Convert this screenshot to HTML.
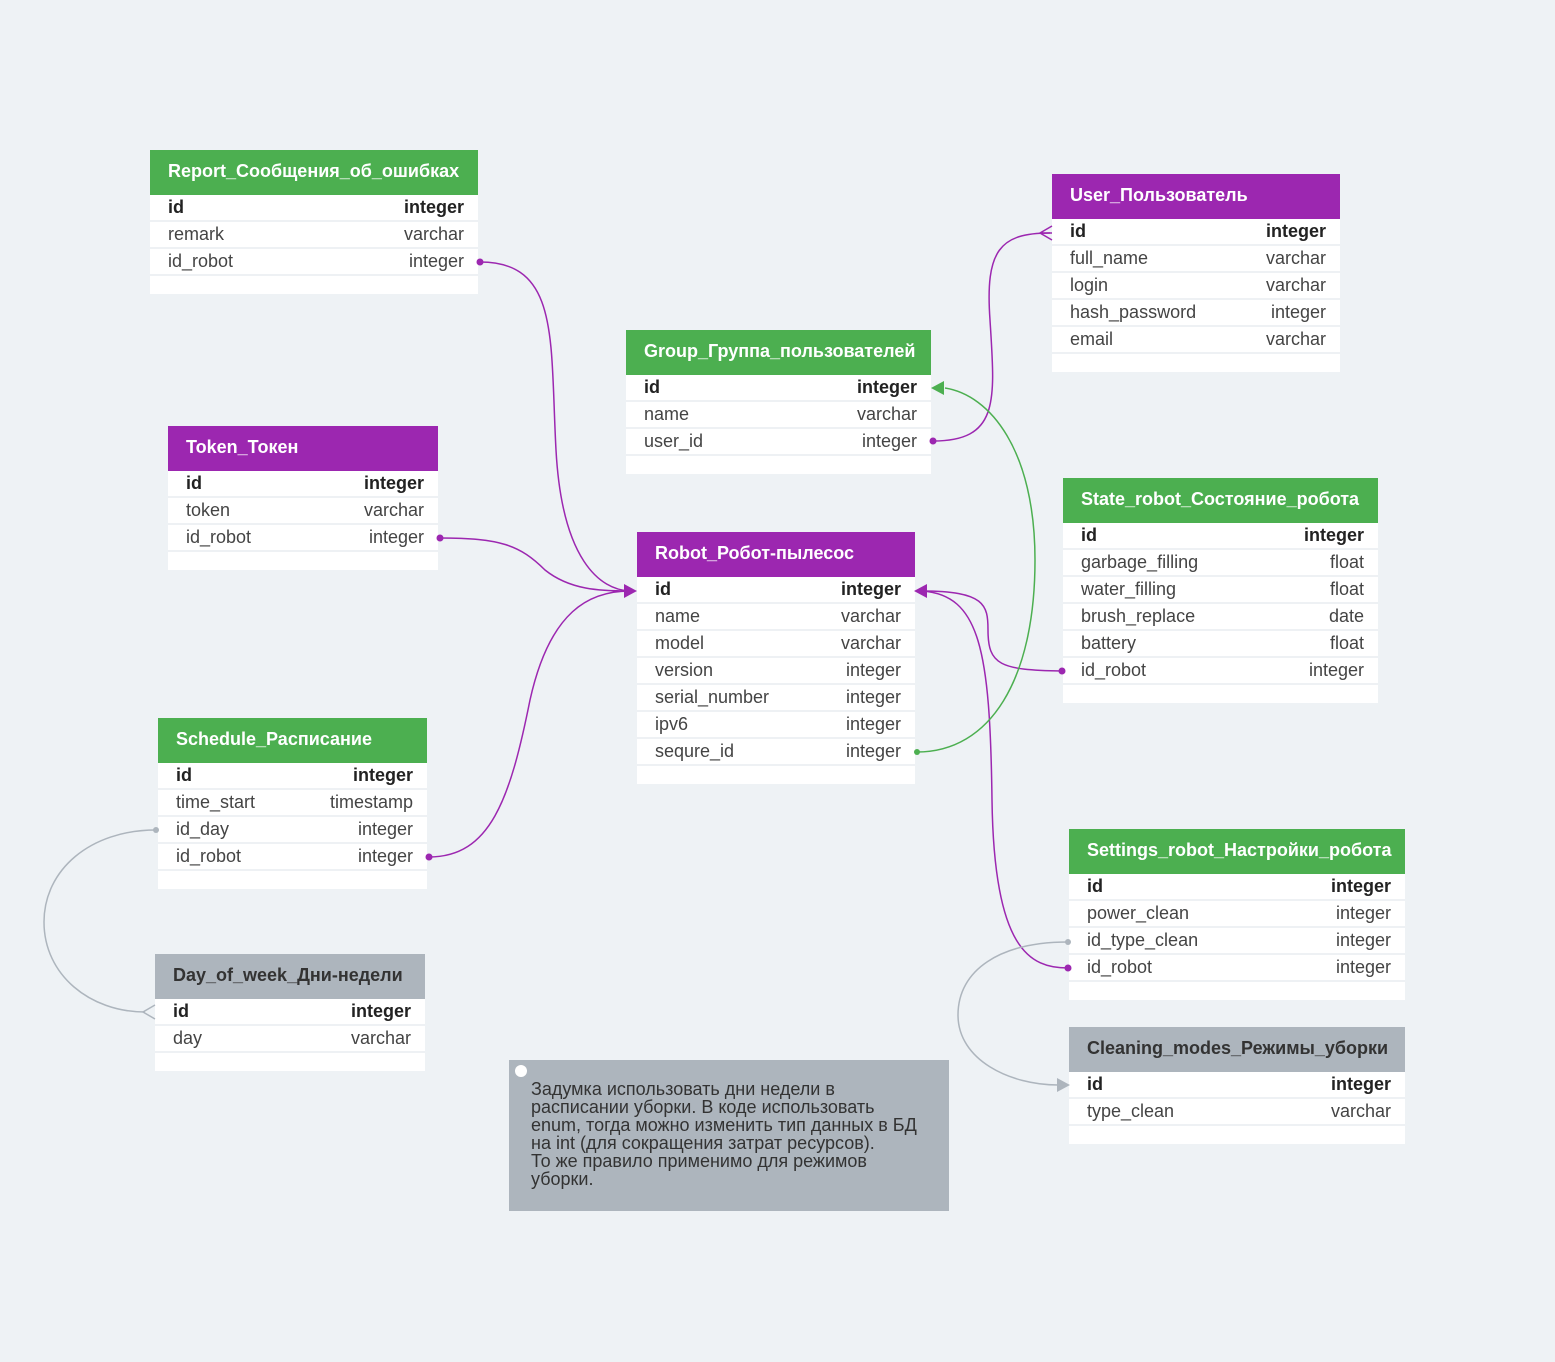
<!DOCTYPE html>
<html><head><meta charset="utf-8">
<style>
body{margin:0;width:1555px;height:1362px;background:#eef2f5;position:relative;overflow:hidden;font-family:"Liberation Sans","Noto Sans CJK SC",sans-serif;}
.t{position:absolute;background:#fff;}
.h{height:45px;line-height:43px;padding-left:18px;color:#fff;font-weight:bold;font-size:18px;white-space:nowrap;}
.g{background:#4caf50}.p{background:#9c27b0}.gr{background:#adb5bd;color:#333}
.r{height:25px;line-height:25px;border-bottom:2px solid #eef1f4;padding:0 14px 0 18px;font-size:18px;color:#444;display:flex;justify-content:space-between;}
.r.b{font-weight:bold;color:#222}
.f{height:18px}
.note{position:absolute;left:509px;top:1060px;width:440px;height:151px;background:#adb5bd;}
.note .d{position:absolute;left:6px;top:5px;width:12px;height:12px;border-radius:50%;background:#fff}
.note .tx{position:absolute;left:22px;top:20px;font-size:18px;line-height:18px;color:#333;white-space:pre}
svg{position:absolute;left:0;top:0}
</style></head><body>

<div class="t" style="left:150px;top:150px;width:328px">
<div class="h g">Report_Сообщения_об_ошибках</div>
<div class="r b"><span>id</span><span>integer</span></div>
<div class="r"><span>remark</span><span>varchar</span></div>
<div class="r"><span>id_robot</span><span>integer</span></div>
<div class="f"></div></div>

<div class="t" style="left:168px;top:426px;width:270px">
<div class="h p">Token_Токен</div>
<div class="r b"><span>id</span><span>integer</span></div>
<div class="r"><span>token</span><span>varchar</span></div>
<div class="r"><span>id_robot</span><span>integer</span></div>
<div class="f"></div></div>

<div class="t" style="left:626px;top:330px;width:305px">
<div class="h g">Group_Группа_пользователей</div>
<div class="r b"><span>id</span><span>integer</span></div>
<div class="r"><span>name</span><span>varchar</span></div>
<div class="r"><span>user_id</span><span>integer</span></div>
<div class="f"></div></div>

<div class="t" style="left:1052px;top:174px;width:288px">
<div class="h p">User_Пользователь</div>
<div class="r b"><span>id</span><span>integer</span></div>
<div class="r"><span>full_name</span><span>varchar</span></div>
<div class="r"><span>login</span><span>varchar</span></div>
<div class="r"><span>hash_password</span><span>integer</span></div>
<div class="r"><span>email</span><span>varchar</span></div>
<div class="f"></div></div>

<div class="t" style="left:637px;top:532px;width:278px">
<div class="h p">Robot_Робот-пылесос</div>
<div class="r b"><span>id</span><span>integer</span></div>
<div class="r"><span>name</span><span>varchar</span></div>
<div class="r"><span>model</span><span>varchar</span></div>
<div class="r"><span>version</span><span>integer</span></div>
<div class="r"><span>serial_number</span><span>integer</span></div>
<div class="r"><span>ipv6</span><span>integer</span></div>
<div class="r"><span>sequre_id</span><span>integer</span></div>
<div class="f"></div></div>

<div class="t" style="left:1063px;top:478px;width:315px">
<div class="h g">State_robot_Состояние_робота</div>
<div class="r b"><span>id</span><span>integer</span></div>
<div class="r"><span>garbage_filling</span><span>float</span></div>
<div class="r"><span>water_filling</span><span>float</span></div>
<div class="r"><span>brush_replace</span><span>date</span></div>
<div class="r"><span>battery</span><span>float</span></div>
<div class="r"><span>id_robot</span><span>integer</span></div>
<div class="f"></div></div>

<div class="t" style="left:158px;top:718px;width:269px">
<div class="h g">Schedule_Расписание</div>
<div class="r b"><span>id</span><span>integer</span></div>
<div class="r"><span>time_start</span><span>timestamp</span></div>
<div class="r"><span>id_day</span><span>integer</span></div>
<div class="r"><span>id_robot</span><span>integer</span></div>
<div class="f"></div></div>

<div class="t" style="left:155px;top:954px;width:270px">
<div class="h gr">Day_of_week_Дни-недели</div>
<div class="r b"><span>id</span><span>integer</span></div>
<div class="r"><span>day</span><span>varchar</span></div>
<div class="f"></div></div>

<div class="t" style="left:1069px;top:829px;width:336px">
<div class="h g">Settings_robot_Настройки_робота</div>
<div class="r b"><span>id</span><span>integer</span></div>
<div class="r"><span>power_clean</span><span>integer</span></div>
<div class="r"><span>id_type_clean</span><span>integer</span></div>
<div class="r"><span>id_robot</span><span>integer</span></div>
<div class="f"></div></div>

<div class="t" style="left:1069px;top:1027px;width:336px">
<div class="h gr">Cleaning_modes_Режимы_уборки</div>
<div class="r b"><span>id</span><span>integer</span></div>
<div class="r"><span>type_clean</span><span>varchar</span></div>
<div class="f"></div></div>

<div class="note"><div class="d"></div><div class="tx">Задумка использовать дни недели в
расписании уборки. В коде использовать
enum, тогда можно изменить тип данных в БД
на int (для сокращения затрат ресурсов).
То же правило применимо для режимов
уборки.</div></div>

<svg width="1555" height="1362" fill="none">
<g stroke="#9c27b0" stroke-width="1.5">
<path d="M480 262 C560 262 550 340 556 450 C562 560 600 590 630 591"/>
<path d="M440 538 C500 538 520 545 545 570 C570 590 600 591 630 591"/>
<path d="M429 857 C490 857 510 800 530 700 C550 610 590 591 630 591"/>
<path d="M933 441 C1000 441 995 400 990 320 C985 250 1000 233 1050 233"/>
<path d="M922 591 C985 591 988 605 988 630 C988 665 1000 670 1062 671"/>
<path d="M922 591 C980 595 990 650 992 800 C994 950 1030 968 1068 968"/>
</g>
<g fill="#9c27b0">
<polygon points="637,591 624,584 624,598"/>
<polygon points="914,591 927,584 927,598"/>
<circle cx="480" cy="262" r="3.5"/><circle cx="440" cy="538" r="3.5"/>
<circle cx="429" cy="857" r="3.5"/><circle cx="933" cy="441" r="3.5"/>
<circle cx="1062" cy="671" r="3.5"/><circle cx="1068" cy="968" r="3.5"/>
</g>
<path d="M1052 226 L1040 233 L1052 240 M1040 233 L1052 233" stroke="#9c27b0" stroke-width="1.5"/>
<path d="M917 752 C990 752 1035 680 1035 560 C1035 450 990 395 945 388" stroke="#4caf50" stroke-width="1.5"/>
<polygon points="931,388 944,381 944,395" fill="#4caf50"/>
<circle cx="917" cy="752" r="3" fill="#4caf50"/>
<g stroke="#adb5bd" stroke-width="1.5">
<path d="M156 830 C90 830 44 870 44 922 C44 975 90 1012 145 1012"/>
<path d="M155 1005 L143 1012 L155 1019"/>
<path d="M1068 942 C1000 942 958 970 958 1015 C958 1060 1010 1085 1058 1085"/>
</g>
<circle cx="156" cy="830" r="3" fill="#adb5bd"/>
<circle cx="1068" cy="942" r="3" fill="#adb5bd"/>
<polygon points="1070,1085 1057,1078 1057,1092" fill="#adb5bd"/>
</svg>
</body></html>
